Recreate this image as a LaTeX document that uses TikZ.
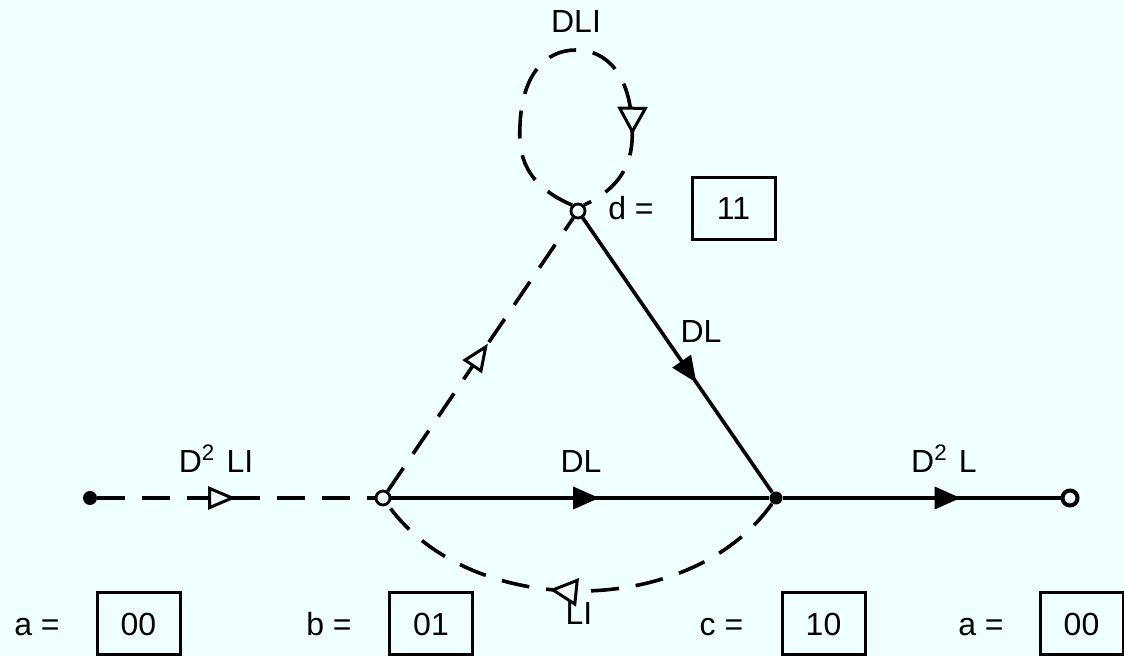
\documentclass[tikz,border=0pt]{standalone}
\usepackage{fontspec}
\setmainfont{Liberation Sans}
\usetikzlibrary{arrows.meta,decorations.markings}
\definecolor{paper}{RGB}{240,255,255}
\tikzset{
  ring/.style={circle,draw,line width=1.4pt,fill=paper,inner sep=0pt,minimum size=7pt},
  dot/.style={circle,fill=black,inner sep=0pt,minimum size=7pt},
  branch/.style={line width=1.8pt},
  dashbranch/.style={line width=1.8pt,dash pattern=on 14pt off 8.5pt},
  fullarrow/.style={postaction={decorate},decoration={markings,
    mark=at position #1 with {\arrow{Triangle[length=13pt,width=11pt]}}}},
  openarrow/.style n args={2}{postaction={decorate},decoration={markings,
    mark=at position #1 with {\arrow{Triangle[length=14pt,width=#2,fill=paper,line width=1.5pt]}}}},
  code/.style={draw,line width=1.5pt,minimum width=41.5pt,minimum height=31pt,inner sep=0pt,
    font=\fontsize{16}{19}\selectfont},
  lbl/.style={inner sep=0pt,anchor=base,font=\fontsize{16}{19}\selectfont}
}
\begin{document}
\begin{tikzpicture}[x=0.5pt,y=-0.5pt]
\useasboundingbox (0,0) rectangle (1124,656);
\path[fill=paper] (0,0) rectangle (1124,656);
% states:
\node[dot] (a1) at (90,498) {};
\node[ring] (b) at (383,498) {};
\node[dot,minimum size=6.5pt] (c) at (776,498) {};
\node[ring,line width=2pt,minimum size=7.5pt] (a2) at (1070,498) {};
\node[ring] (d) at (578,211) {};
% branches:
\draw[dashbranch,openarrow={0.5}{11.5pt}] (a1) -- (b);
\draw[dashbranch,openarrow={0.54}{11.5pt}] (b) -- (d);
\draw[branch,fullarrow=0.6] (d) -- (c);
\draw[branch,fullarrow=0.55] (b) -- (c);
\draw[branch,fullarrow=0.64] (c) -- (a2);
\draw[dashbranch,openarrow={0.57}{14pt}] (c) .. controls (690,620) and (470,620) .. (b);
\draw[dashbranch,openarrow={0.78}{15pt}] (d.135) .. controls (525,185) and (518,155) .. (520,125)
  .. controls (522,75) and (545,50) .. (576,50) .. controls (607,50) and (630,75) .. (632,125)
  .. controls (634,155) and (627,185) .. (d.45);
% labels:
\node[lbl] (ldli) at (576,33) {DLI};
\node[lbl] (ld) at (631,220) {d =};
\node[code] (bd) at (733.5,208.5) {11};
\node[lbl] (ldc) at (701,343) {DL};
\node[lbl] (lab) at (216,473) {D\textsuperscript{2}\hspace{0.35em}LI};
\node[lbl] (lbc) at (581,473) {DL};
\node[lbl] (lca) at (944,473) {D\textsuperscript{2}\hspace{0.35em}L};
\node[lbl] (lcb) at (579,625) {LI};
% codes:
\node[lbl] (la1) at (37,636) {a =};
\node[code] (ba1) at (138.5,624) {00};
\node[lbl] (lb) at (329,636) {b =};
\node[code] (bb) at (431,624) {01};
\node[lbl] (lc) at (721.5,636) {c =};
\node[code] (bc) at (823.5,624) {10};
\node[lbl] (la2) at (981,636) {a =};
\node[code] (ba2) at (1081.5,624) {00};
\end{tikzpicture}
\end{document}
